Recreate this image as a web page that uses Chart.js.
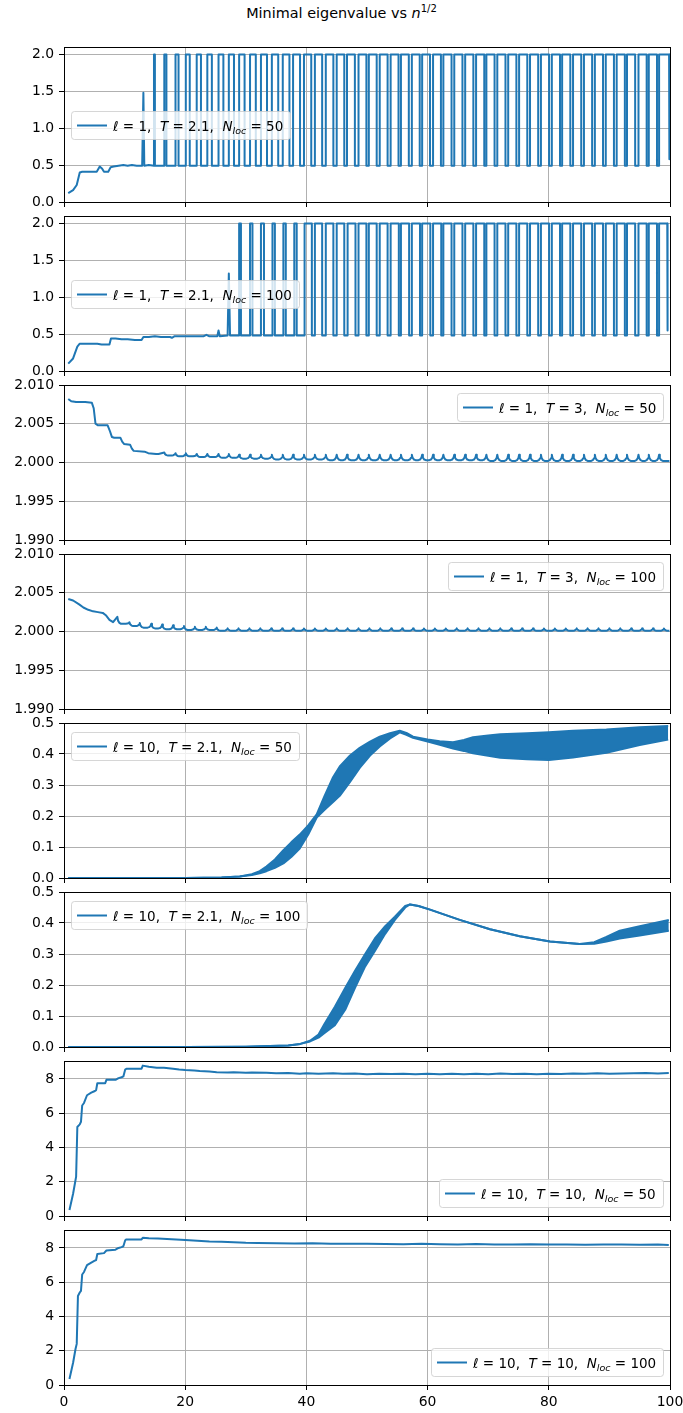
<!DOCTYPE html>
<html>
<head>
<meta charset="utf-8">
<script src="https://cdn.jsdelivr.net/npm/chart.js@4.4.0/dist/chart.umd.min.js"></script>
<style>
  html, body { margin: 0; padding: 0; background: #fff; }
  #fig { position: relative; width: 683px; height: 1413px; overflow: hidden; }
  #title { position: absolute; left: 0; top: 3px; width: 683px; text-align: center;
           font-family: 'DejaVu Sans'; font-size: 14.4px; color: #000; }
  #title sup { font-size: 10px; }
  canvas { position: absolute; left: 0; }
</style>
</head>
<body>
<div id="fig">
  <div id="title">Minimal eigenvalue vs <i>n</i><sup>1/2</sup></div>
</div>
<script>
// ---- data ----
const xTicks = [0, 20, 40, 60, 80, 100];
const yTicksA = [0, 0.5, 1.0, 1.5, 2.0];
const yTicksB = [1.990, 1.995, 2.000, 2.005, 2.010];
const yTicksC = [0, 0.1, 0.2, 0.3, 0.4, 0.5];
const yTicksD = [0, 2, 4, 6, 8];

const legendEll = ['1', '1', '1', '1', '10', '10', '10', '10'];
const legendT = ['2.1', '2.1', '3', '3', '2.1', '2.1', '10', '10'];
const legendN = ['50', '100', '50', '100', '50', '100', '50', '100'];

// l=1, T=2.1, N=50
const p1LeadX = [0.7, 1.5, 2.1, 2.6, 3.0, 5.4, 5.9, 6.3, 6.6, 7.3, 7.7, 8.2, 9.0, 9.8, 10.5, 11.2, 12.0, 12.9, 13.1, 13.25, 14.0];
const p1LeadY = [0.12, 0.16, 0.23, 0.40, 0.41, 0.41, 0.48, 0.45, 0.41, 0.41, 0.47, 0.48, 0.49, 0.50, 0.49, 0.50, 0.49, 0.49, 1.48, 0.49, 0.50];
const p1Rise = [14.85, 16.55, 18.4, 20.1, 21.9, 23.65, 25.5, 27.2, 28.9, 30.7, 32.5, 34.3, 36.1, 37.8, 39.6, 41.4, 43.2, 45.0, 46.7, 48.6,
                50.3, 52.1, 53.9, 55.6, 57.4, 59.1, 60.9, 62.6, 64.4, 66.2, 68.0, 69.7, 71.5, 73.3, 75.1, 76.9, 78.7, 80.5, 82.2, 84.0,
                85.8, 87.6, 89.4, 91.2, 92.9, 94.8, 96.5, 98.2];
const p1Fall = [15.0, 16.9, 18.9, 20.75, 22.6, 24.4, 26.3, 28.05, 29.8, 31.65, 33.5, 35.35, 37.2, 38.95, 40.8, 42.6, 44.45, 46.25, 48.0, 49.9,
                51.6, 53.4, 55.2, 56.9, 58.7, 60.4, 62.2, 63.95, 65.75, 67.55, 69.35, 71.05, 72.85, 74.65, 76.45, 78.25, 80.05, 81.85, 83.55, 85.35,
                87.15, 88.95, 90.75, 92.55, 94.25, 96.15, 97.85];
const p1Level = [0.49, 2.0];
const p1TailX = [99.85, 99.9];
const p1TailY = [2.0, 0.58];

// l=1, T=2.1, N=100
const p2LeadX = [0.7, 1.5, 2.2, 2.6, 4.0, 5.5, 6.2, 7.5, 7.75, 8.5, 9.5, 10.5, 11.7, 12.8, 13.1, 14.0, 15.0, 16.0, 17.5, 17.8, 18.2, 20.0,
                 23.0, 23.5, 24.0, 25.3, 25.5, 25.7, 27.0, 27.2, 27.4, 28.5];
const p2LeadY = [0.10, 0.17, 0.33, 0.37, 0.37, 0.37, 0.36, 0.36, 0.44, 0.44, 0.43, 0.43, 0.42, 0.42, 0.46, 0.46, 0.47, 0.46, 0.46, 0.45, 0.47, 0.47,
                 0.47, 0.49, 0.47, 0.47, 0.55, 0.47, 0.48, 1.32, 0.48, 0.48];
const p2Rise = [28.9, 30.7, 32.5, 34.4, 36.2, 38.0, 39.7, 41.4, 43.2, 45.0, 46.8, 48.6, 50.3, 52.1, 53.9, 55.6, 57.4, 59.1, 60.9, 62.6,
                64.4, 66.2, 68.0, 69.7, 71.5, 73.3, 75.1, 76.9, 78.7, 80.5, 82.2, 84.0, 85.8, 87.6, 89.4, 91.2, 92.9, 94.8, 96.5, 98.2];
const p2Fall = [29.2, 31.1, 33.0, 34.8, 36.6, 38.4, 40.9, 42.6, 44.45, 46.25, 48.1, 49.9, 51.6, 53.4, 55.25, 56.95, 58.75, 60.45, 62.25, 63.95,
                65.75, 67.55, 69.35, 71.05, 72.85, 74.65, 76.45, 78.25, 80.05, 81.85, 83.55, 85.35, 87.15, 88.95, 90.75, 92.55, 94.25, 96.15, 97.85];
const p2Level = [0.48, 2.0];
const p2TailX = [99.55, 99.6];
const p2TailY = [2.0, 0.55];

// l=1, T=3, N=50
const p3LeadX = [0.7, 1.2, 2.0, 3.5, 4.6, 4.9, 5.2, 5.6, 7.2, 7.6, 7.9, 8.3, 9.3, 9.6, 9.9, 10.9, 11.2, 11.5, 13.3, 13.6, 13.9, 15.2, 15.6];
const p3LeadY = [2.0082, 2.0079, 2.0078, 2.0078, 2.0077, 2.0070, 2.0050, 2.0048, 2.0048, 2.0040, 2.0033, 2.0032, 2.0032, 2.0027, 2.0024,
                 2.0023, 2.0018, 2.0015, 2.0014, 2.0013, 2.0012, 2.0011, 2.0011];
const p3CuspX = [16.55, 18.4, 20.1, 21.9, 23.65, 25.5, 27.2, 28.9, 30.7, 32.5, 34.3, 36.1, 37.8, 39.6, 41.4, 43.2, 45.0, 46.7, 48.6, 50.3,
                 52.1, 53.9, 55.6, 57.4, 59.1, 60.9, 62.6, 64.4, 66.2, 68.0, 69.7, 71.5, 73.3, 75.1, 76.9, 78.7, 80.5, 82.2, 84.0, 85.8,
                 87.6, 89.4, 91.2, 92.9, 94.8, 96.5, 98.2];
const p3Peak = [2.0013, 2.0012, 2.0012, 2.0011, 2.0011, 2.0011, 2.0011, 2.0010, 2.0010, 2.0010, 2.0010, 2.0010, 2.0010, 2.0010, 2.0010, 2.0010,
                2.0010, 2.0010, 2.0010, 2.0010, 2.0010, 2.0010, 2.0010, 2.0010, 2.0010, 2.0010, 2.0010, 2.0010, 2.0010, 2.0010, 2.0010, 2.0010,
                2.0010, 2.0010, 2.0010, 2.0010, 2.0010, 2.0010, 2.0010, 2.0010, 2.0010, 2.0010, 2.0010, 2.0010, 2.0010, 2.0010, 2.0010];
const p3Floor = [2.0009, 2.0008, 2.0008, 2.0007, 2.0007, 2.0006, 2.0006, 2.0005, 2.0005, 2.0005, 2.0004, 2.0004, 2.0004, 2.0004, 2.0004, 2.0003,
                 2.0003, 2.0003, 2.0003, 2.0003, 2.0003, 2.0003, 2.0003, 2.0003, 2.0003, 2.0003, 2.0003, 2.0003, 2.0003, 2.0003, 2.0002, 2.0002,
                 2.0002, 2.0002, 2.0002, 2.0002, 2.0002, 2.0002, 2.0002, 2.0002, 2.0002, 2.0002, 2.0002, 2.0002, 2.0002, 2.0002, 2.0002];

// l=1, T=3, N=100
const p4LeadX = [0.7, 1.5, 2.5, 3.2, 4.0, 4.8, 5.6, 6.4, 6.9, 7.5, 8.1];
const p4LeadY = [2.0042, 2.0040, 2.0035, 2.0031, 2.0028, 2.0026, 2.0025, 2.0024, 2.0021, 2.0015, 2.0012];
const p4CuspX = [8.8, 10.8, 12.5, 14.4, 16.2, 18.0, 19.8, 21.6, 23.4, 25.2, 27.0, 28.8, 30.6, 32.4, 34.2, 36.0, 37.8, 39.6, 41.4, 43.2,
                 45.0, 46.8, 48.6, 50.4, 52.2, 54.0, 55.8, 57.6, 59.4, 61.2, 63.0, 64.8, 66.6, 68.4, 70.2, 72.0, 73.8, 75.6, 77.4, 79.2,
                 81.0, 82.8, 84.6, 86.4, 88.2, 90.0, 91.8, 93.6, 95.4, 97.2, 99.0];
const p4Peak = [2.0019, 2.0012, 2.0011, 2.0010, 2.0009, 2.0008, 2.0007, 2.0006, 2.0006, 2.0005, 2.0004, 2.0004, 2.0004, 2.0004, 2.0004, 2.0004,
                2.0004, 2.0004, 2.0004, 2.0004, 2.0004, 2.0004, 2.0004, 2.0004, 2.0004, 2.0004, 2.0004, 2.0004, 2.0004, 2.0004, 2.0004, 2.0004,
                2.0004, 2.0004, 2.0004, 2.0004, 2.0004, 2.0004, 2.0004, 2.0004, 2.0004, 2.0004, 2.0004, 2.0004, 2.0004, 2.0004, 2.0004, 2.0004,
                2.0004, 2.0004, 2.0004];
const p4Floor = [2.0010, 2.0007, 2.0005, 2.0004, 2.0003, 2.0003, 2.0002, 2.0002, 2.0002, 2.0001, 2.0001, 2.0001, 2.0001, 2.0001, 2.0001, 2.0001,
                 2.0001, 2.0001, 2.0001, 2.0001, 2.0001, 2.0001, 2.0001, 2.0001, 2.0001, 2.0001, 2.0001, 2.0001, 2.0001, 2.0001, 2.0001, 2.0001,
                 2.0001, 2.0001, 2.0001, 2.0001, 2.0001, 2.0001, 2.0001, 2.0001, 2.0001, 2.0001, 2.0001, 2.0001, 2.0001, 2.0001, 2.0001, 2.0001,
                 2.0001, 2.0001, 2.0001];

// l=10, T=2.1, N=50 (oscillation band: lower / upper envelope)
const p5X = [0.7, 20, 26, 29, 31, 32.3, 33.4, 34.8, 36.2, 37.5, 38.9, 40.3, 41.7, 43, 44.4, 45.5, 47.2, 48.8, 50.5, 52.1,
             53.8, 55.4, 56.5, 57.6, 60, 62, 64.2, 66, 67.5, 70, 72, 76.4, 80, 84, 89.5, 95, 99.7];
const p5Lo = [0, 0, 0.002, 0.005, 0.01, 0.015, 0.022, 0.033, 0.047, 0.068, 0.095, 0.14, 0.195, 0.22, 0.245, 0.265, 0.31, 0.355, 0.395, 0.424,
              0.45, 0.47, 0.462, 0.452, 0.44, 0.43, 0.418, 0.41, 0.402, 0.394, 0.388, 0.383, 0.381, 0.389, 0.404, 0.429, 0.447];
const p5Hi = [0, 0, 0.002, 0.005, 0.012, 0.022, 0.037, 0.06, 0.09, 0.115, 0.14, 0.17, 0.205, 0.265, 0.325, 0.36, 0.395, 0.42, 0.44, 0.456,
              0.467, 0.475, 0.468, 0.456, 0.447, 0.441, 0.438, 0.445, 0.454, 0.46, 0.464, 0.467, 0.47, 0.475, 0.479, 0.486, 0.49];

// l=10, T=2.1, N=100
const p6X = [0.7, 20, 30, 34, 37, 39, 40.6, 42, 43, 44.7, 46.4, 48, 49.7, 51.3, 53, 54.6, 56.3, 57.1, 58.5, 60.4,
             65.3, 70.3, 75.2, 80.2, 85.1, 87.5, 89.5, 91.7, 95, 99.8];
const p6Lo = [0, 0, 0.001, 0.003, 0.005, 0.01, 0.018, 0.03, 0.045, 0.07, 0.12, 0.19, 0.26, 0.31, 0.365, 0.41, 0.45, 0.46, 0.455, 0.443,
              0.41, 0.38, 0.357, 0.34, 0.332, 0.333, 0.34, 0.35, 0.36, 0.375];
const p6Hi = [0, 0, 0.001, 0.003, 0.005, 0.01, 0.02, 0.04, 0.075, 0.13, 0.19, 0.245, 0.3, 0.35, 0.39, 0.42, 0.455, 0.46, 0.455, 0.443,
              0.41, 0.38, 0.357, 0.34, 0.332, 0.338, 0.355, 0.375, 0.39, 0.41];

// l=10, T=10, N=50
const p7X = [0.9, 1.5, 1.8, 2.0, 2.2, 2.6, 2.8, 3.0, 3.3, 3.8, 4.5, 5.1, 5.3, 5.5, 6.8, 7.0, 8.5, 9.0, 9.5, 9.8,
             10.1, 10.3, 12.5, 12.8, 13.0, 14, 15.3, 16.5, 18, 19, 20, 21.5, 22.4, 24, 25.2, 27, 28, 30, 31, 33.4,
             35, 37, 38.9, 40, 42, 44.4, 46, 48, 50, 52, 54, 56, 58, 60, 62, 64, 66, 68, 70, 72,
             74, 76, 78, 80, 82, 84, 86, 88, 90, 92, 94, 96, 98, 99.8];
const p7Y = [0.35, 1.3, 1.9, 2.3, 5.2, 5.35, 5.5, 6.45, 6.6, 7.05, 7.2, 7.3, 7.35, 7.75, 7.75, 7.95, 7.95, 8.05, 8.1, 8.15,
             8.55, 8.6, 8.6, 8.6, 8.78, 8.72, 8.66, 8.65, 8.6, 8.55, 8.52, 8.5, 8.47, 8.43, 8.4, 8.38, 8.4, 8.37, 8.38, 8.37,
             8.33, 8.35, 8.31, 8.33, 8.3, 8.34, 8.3, 8.32, 8.28, 8.31, 8.29, 8.3, 8.27, 8.3, 8.28, 8.31, 8.27, 8.3, 8.28, 8.32,
             8.29, 8.3, 8.27, 8.31, 8.29, 8.32, 8.3, 8.33, 8.3, 8.32, 8.33, 8.35, 8.32, 8.35];

// l=10, T=10, N=100
const p8X = [0.9, 1.5, 1.9, 2.1, 2.3, 2.6, 2.8, 3.0, 3.3, 3.8, 4.5, 5.0, 5.3, 5.5, 6.6, 7.0, 8.5, 9.0, 9.5, 9.8,
             10.1, 10.3, 12.5, 12.8, 13.0, 14, 15.5, 17, 18.5, 20, 22, 24, 26, 28, 30, 32, 35, 38, 41, 44,
             47, 50, 53, 56, 59, 62, 65, 68, 71, 74, 77, 80, 83, 86, 89, 92, 95, 98, 99.8];
const p8Y = [0.35, 1.3, 2.1, 2.4, 5.2, 5.4, 5.5, 6.45, 6.6, 7.0, 7.15, 7.25, 7.3, 7.65, 7.7, 7.85, 7.9, 8.0, 8.05, 8.1,
             8.45, 8.5, 8.5, 8.5, 8.6, 8.57, 8.55, 8.52, 8.5, 8.46, 8.42, 8.38, 8.36, 8.33, 8.3, 8.29, 8.28, 8.26, 8.27, 8.25,
             8.24, 8.25, 8.23, 8.22, 8.24, 8.22, 8.21, 8.23, 8.21, 8.2, 8.22, 8.2, 8.21, 8.19, 8.21, 8.2, 8.19, 8.2, 8.18];

// ---- helpers to build point lists ----
function zipPts(xs, ys) {
  return xs.map((x, i) => ({ x: x, y: ys[i] }));
}
// square pulses: lead-in, then up/down edges, then tail
function pulsePts(leadX, leadY, rise, fall, level, tailX, tailY) {
  const pts = zipPts(leadX, leadY);
  rise.forEach((r, i) => {
    pts.push({ x: r, y: level[0] }, { x: r, y: level[1] });
    if (i < fall.length) pts.push({ x: fall[i], y: level[1] }, { x: fall[i], y: level[0] });
  });
  return pts.concat(zipPts(tailX, tailY));
}
// small cusps ("u u u"): sharp peak, rounded bowl down to the floor, back up to the next peak
function cuspPts(leadX, leadY, cx, peak, floor) {
  const pts = zipPts(leadX, leadY);
  cx.forEach((x, i) => {
    const last = i + 1 >= cx.length;
    const next = last ? 100 : cx[i + 1];
    const d = peak[i] - floor[i];
    const dn = last ? 0 : (peak[i + 1] - floor[i]);
    pts.push({ x: x, y: peak[i] },
             { x: x + 0.12, y: floor[i] + d * 0.45 },
             { x: x + 0.35, y: floor[i] + d * 0.12 },
             { x: x + 0.6, y: floor[i] });
    if (!last) {
      pts.push({ x: next - 0.6, y: floor[i] },
               { x: next - 0.35, y: floor[i] + dn * 0.12 },
               { x: next - 0.12, y: floor[i] + dn * 0.45 });
    } else {
      pts.push({ x: 99.9, y: floor[i] });
    }
  });
  return pts;
}

const BLUE = '#1f77b4';
function line(pts, extra) {
  return Object.assign({ data: pts, borderColor: BLUE, backgroundColor: BLUE, borderWidth: 2,
    borderJoinStyle: 'round', borderCapStyle: 'butt',
    pointRadius: 0, tension: 0, fill: false, clip: 0 }, extra || {});
}

// ---- plugins ----
const framePlugin = {
  id: 'frame',
  afterDatasetsDraw(chart, args, opts) {
    const ctx = chart.ctx, a = chart.chartArea;
    ctx.save();
    ctx.strokeStyle = '#000';
    ctx.lineWidth = 1;
    ctx.strokeRect(Math.round(a.left) + 0.5, Math.round(a.top) + 0.5,
                   Math.round(a.right) - Math.round(a.left), Math.round(a.bottom) - Math.round(a.top));
    ctx.restore();
    drawLegend(chart, opts.idx, opts.loc);
  }
};

function rrect(ctx, x, y, w, h, r) {
  ctx.beginPath();
  ctx.moveTo(x + r, y);
  ctx.arcTo(x + w, y, x + w, y + h, r);
  ctx.arcTo(x + w, y + h, x, y + h, r);
  ctx.arcTo(x, y + h, x, y, r);
  ctx.arcTo(x, y, x + w, y, r);
  ctx.closePath();
}

function drawLegend(chart, idx, loc) {
  const ctx = chart.ctx, a = chart.chartArea;
  const fN = "13.5px 'DejaVu Sans'", fI = "italic 13.5px 'DejaVu Sans'", fS = "italic 9.5px 'DejaVu Sans'";
  const segs = [
    ['\u2113', fI, 0], [' = ' + legendEll[idx] + ',  ', fN, 0],
    ['T', fI, 0], [' = ' + legendT[idx] + ',  ', fN, 0],
    ['N', fI, 0], ['loc', fS, 3], [' = ' + legendN[idx], fN, 0]
  ];
  ctx.save();
  let tw = 0;
  segs.forEach(s => { ctx.font = s[1]; s.w = ctx.measureText(s[0]).width; tw += s.w; });
  const w = Math.round(42 + tw + 7), h = 28;
  let x, y;
  if (loc === 'centerLeft') { x = a.left + 7; y = Math.round((a.top + a.bottom) / 2 - h / 2); }
  else if (loc === 'upperLeft') { x = a.left + 7; y = a.top + 9; }
  else if (loc === 'upperRight') { x = a.right - 7 - w; y = a.top + 8; }
  else { x = a.right - 7 - w; y = a.bottom - 9 - h; }
  rrect(ctx, x + 0.5, y + 0.5, w, h, 3);
  ctx.fillStyle = 'rgba(255,255,255,0.8)';
  ctx.fill();
  ctx.strokeStyle = 'rgba(204,204,204,0.8)';
  ctx.lineWidth = 1;
  ctx.stroke();
  ctx.strokeStyle = BLUE;
  ctx.lineWidth = 2;
  ctx.beginPath();
  ctx.moveTo(x + 6, y + 14.5);
  ctx.lineTo(x + 36, y + 14.5);
  ctx.stroke();
  ctx.fillStyle = '#000';
  ctx.textBaseline = 'alphabetic';
  let tx = x + 42;
  segs.forEach(s => { ctx.font = s[1]; ctx.fillText(s[0], tx, y + 19.5 + s[2]); tx += s.w; });
  ctx.restore();
}

// ---- panels ----
const panelTop = [47, 216, 385, 554, 723, 892, 1061, 1230];
const fig = document.getElementById('fig');

function makePanel(idx, datasets, yMin, yMax, yTicks, digits, loc) {
  const last = idx === panelTop.length - 1;
  const top = panelTop[idx] - 10;
  const cv = document.createElement('canvas');
  cv.width = 683;
  cv.height = last ? 1413 - top : 175;
  cv.style.top = top + 'px';
  fig.appendChild(cv);
  const tickFont = { family: 'DejaVu Sans', size: 13.9, lineHeight: 1 };
  new Chart(cv.getContext('2d'), {
    type: 'line',
    data: { datasets: datasets },
    options: {
      responsive: false,
      animation: false,
      devicePixelRatio: 1,
      events: [],
      layout: { padding: { top: 10, right: 13, left: 0, bottom: 0 } },
      plugins: { legend: { display: false }, tooltip: { enabled: false }, frame: { idx: idx, loc: loc } },
      scales: {
        x: {
          type: 'linear', min: 0, max: 100,
          afterBuildTicks: s => { s.ticks = xTicks.map(v => ({ value: v })); },
          afterFit: s => { s.height = last ? 28 : 10; s.paddingLeft = 0; s.paddingRight = 0; },
          ticks: { display: last, font: tickFont, color: '#000', padding: 5, maxRotation: 0, autoSkip: false,
                   callback: v => String(v) },
          grid: { color: '#b0b0b0', lineWidth: 1, tickLength: 5, tickColor: '#000', drawTicks: true },
          border: { display: false }
        },
        y: {
          type: 'linear', min: yMin, max: yMax,
          afterBuildTicks: s => { s.ticks = yTicks.map(v => ({ value: v })); },
          afterFit: s => { s.width = 64; s.paddingTop = 0; s.paddingBottom = 0; },
          ticks: { font: tickFont, color: '#000', padding: 5, autoSkip: false,
                   callback: v => Number(v).toFixed(digits) },
          grid: { color: '#b0b0b0', lineWidth: 1, tickLength: 5, tickColor: '#000', drawTicks: true },
          border: { display: false }
        }
      }
    },
    plugins: [framePlugin]
  });
}

makePanel(0, [line(pulsePts(p1LeadX, p1LeadY, p1Rise, p1Fall, p1Level, p1TailX, p1TailY))], 0, 2.1, yTicksA, 1, 'centerLeft');
makePanel(1, [line(pulsePts(p2LeadX, p2LeadY, p2Rise, p2Fall, p2Level, p2TailX, p2TailY))], 0, 2.1, yTicksA, 1, 'centerLeft');
makePanel(2, [line(cuspPts(p3LeadX, p3LeadY, p3CuspX, p3Peak, p3Floor))], 1.99, 2.01, yTicksB, 3, 'upperRight');
makePanel(3, [line(cuspPts(p4LeadX, p4LeadY, p4CuspX, p4Peak, p4Floor))], 1.99, 2.01, yTicksB, 3, 'upperRight');
makePanel(4, [line(zipPts(p5X, p5Lo)), line(zipPts(p5X, p5Hi), { fill: '-1' })], 0, 0.5, yTicksC, 1, 'upperLeft');
makePanel(5, [line(zipPts(p6X, p6Lo)), line(zipPts(p6X, p6Hi), { fill: '-1' })], 0, 0.5, yTicksC, 1, 'upperLeft');
makePanel(6, [line(zipPts(p7X, p7Y))], 0, 9.05, yTicksD, 0, 'lowerRight');
makePanel(7, [line(zipPts(p8X, p8Y))], 0, 9.05, yTicksD, 0, 'lowerRight');
</script>
</body>
</html>
